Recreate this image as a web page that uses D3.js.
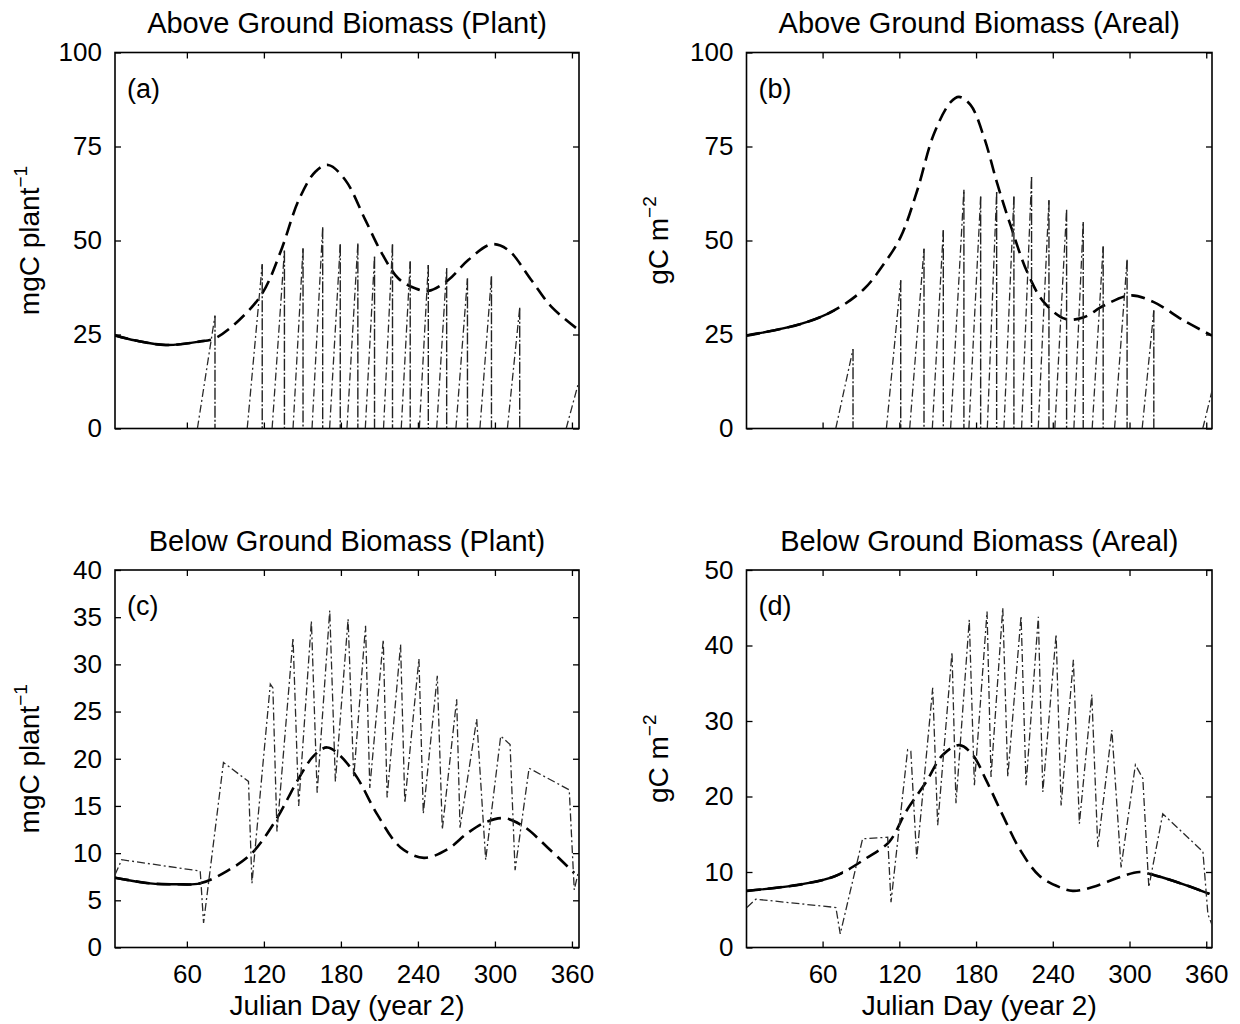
<!DOCTYPE html>
<html>
<head>
<meta charset="utf-8">
<script src="https://cdn.jsdelivr.net/npm/d3@7"></script>
<style>
  body { margin: 0; background: #fff; }
  text { font-family: "Liberation Sans", Arial, Helvetica, sans-serif; fill: #000; }
</style>
</head>
<body>
<svg id="chart" width="1240" height="1024"></svg>
<script>
// x ticks shared by all four panels
const dayTicks = [60, 120, 180, 240, 300, 360];

// (a) above ground, per plant
const aTicks = [0, 25, 50, 75, 100];
const aCurveDay = [3.5, 20, 43.6, 69.5, 82.5, 100.6, 118.7, 133, 147.2, 160.1, 170, 183.4, 199, 211.9, 224.8, 237.8, 248.1, 263.7, 279.2, 297.3, 310.2, 328.3, 343.9, 364.5];
const aCurveVal = [24.8, 23.4, 22.2, 23.1, 24.1, 28.8, 35.9, 47, 60.8, 68.3, 70.1, 66.1, 55.5, 46.6, 39.9, 37.3, 36.6, 39.5, 44.8, 49, 47.5, 39.5, 32.4, 26.4];
const aRiseDay = [68.2, 107, 126.4, 142.7, 157.5, 171.2, 184.7, 199, 213.2, 227, 241.1, 254.6, 269.6, 288.3, 309.7, 355.5];
const aPeakDay = [81.9, 118.7, 136, 150.5, 165.8, 179.5, 193.2, 206.2, 220.2, 234, 248.1, 262.4, 278.6, 297.3, 319.3, 365];
const aPeakVal = [30, 43.7, 47.3, 47.9, 53.5, 49, 49.2, 45.7, 49, 44.4, 43.5, 42.6, 39.9, 40.5, 32.1, 12];
const aSolid = [[0, 74]];

// (b) above ground, areal
const bTicks = [0, 25, 50, 75, 100];
const bCurveDay = [0.2, 43, 69, 92.4, 108, 121, 134, 147.1, 160.1, 166.6, 175.8, 186.2, 196.6, 207, 220, 233, 250, 264.3, 280, 300.8, 319, 342.4, 364.5];
const bCurveVal = [24.7, 27.8, 31.4, 37.1, 43.8, 50.9, 63.3, 78.4, 86.8, 88.2, 86, 77.5, 65.1, 54, 41.6, 33.6, 29.1, 29.6, 32.7, 35.4, 33.6, 28.7, 24.7];
const bRiseDay = [70.3, 109.9, 128.1, 145.8, 160.1, 174.4, 188.8, 201.8, 215.6, 228.6, 241.6, 256.5, 270.8, 288.3, 309.9, 357.3];
const bPeakDay = [83.8, 121.1, 139.3, 154.4, 170.5, 183.6, 196.1, 209.6, 223.4, 237, 250.8, 263.8, 279.4, 298.1, 319, 364.5];
const bPeakVal = [21.1, 39.4, 47.8, 52.7, 63.5, 61.7, 62.9, 61.7, 66.9, 60.7, 58.2, 54.9, 48.4, 44.9, 31.4, 10];
const bSolid = [[0, 70]];

// (c) below ground, per plant
const cTicks = [0, 5, 10, 15, 20, 25, 30, 35, 40];
const cCurveDay = [4, 31.3, 52.2, 70.4, 91.2, 110.7, 130.2, 145.8, 158.8, 169.3, 179.6, 192.7, 208.3, 226.5, 244.7, 262.9, 278.5, 291.5, 307.1, 322.7, 341, 361.8];
const cCurveVal = [7.4, 6.8, 6.7, 6.8, 8.1, 10, 13.7, 17.6, 20.3, 21.2, 20.3, 18, 14.1, 10.6, 9.5, 10.4, 12.1, 13.2, 13.7, 12.8, 10.6, 7.9];
const cThinDay = [4, 9.2, 70.4, 73, 88.5, 108, 110.7, 125, 127, 130.2, 142.7, 147.1, 157, 161.5, 171.3, 175.7, 185.6, 190, 199.2, 202.5, 213, 216, 226.5, 229.8, 240.8, 244.2, 255.1, 259, 270.2, 272.8, 285.8, 292.8, 304.5, 311.8, 315.7, 326.6, 357.9, 361.8, 365];
const cThinVal = [7.7, 9.3, 8.1, 2.6, 19.6, 17.6, 6.8, 27.9, 27.5, 12.3, 32.8, 15, 34.6, 16.4, 35.7, 17.6, 34.8, 18, 34.1, 16.9, 32.6, 15.9, 32.1, 15.3, 30.6, 14.2, 28.8, 12.5, 26.3, 12.7, 24.2, 9.3, 22.4, 21.5, 8.2, 19, 16.7, 6.1, 8];
const cSolid = [[0, 72]];

// (d) below ground, areal
const dTicks = [0, 10, 20, 30, 40, 50];
const dCurveDay = [0.8, 44.4, 70.4, 93.9, 112.1, 125.2, 140.9, 153.9, 166.9, 177.4, 187.8, 200.9, 213.9, 229.5, 245.2, 255.6, 271.3, 292.1, 307.8, 320.8, 341.7, 362.5];
const dCurveVal = [7.5, 8.4, 9.5, 11.8, 14, 18, 21.9, 25.5, 26.8, 25.5, 22.2, 17.5, 13.1, 9.5, 8, 7.5, 8, 9.3, 10, 9.5, 8.4, 7.1];
const dThinDay = [0.8, 7.8, 70.4, 73.8, 91.3, 110.9, 113.5, 126.5, 129, 133.6, 146.1, 150, 161.2, 164.3, 174.7, 178.7, 188.6, 191.7, 200.9, 204.8, 215.2, 219.1, 228.7, 232.2, 242.6, 246.5, 256.1, 260.8, 270.5, 275.2, 286.2, 293.4, 304.6, 310.4, 315.1, 326, 357.4, 361.3, 364.5];
const dThinVal = [5.3, 6.4, 5.3, 1.8, 14.4, 14.6, 6, 26.2, 26, 11.8, 34.4, 16.2, 39.1, 19.1, 43.4, 21.5, 44.5, 22.6, 45, 22.6, 43.9, 21.5, 43.8, 20.6, 41.5, 18.8, 38.1, 16.4, 33.5, 13.3, 28.8, 10.6, 24.2, 22.4, 8, 17.7, 12.7, 4.4, 3];
const dSolid = [[0, 76], [316, 366]];

// harvest spikes: slanted rise, then a near-vertical drop back to zero
function riseSegments(rise, peakDay, peakVal) {
    return rise.map((r, i) => [[r, 0], [peakDay[i], peakVal[i]]]);
}
function dropSegments(peakDay, peakVal, lastDay) {
    return peakDay.filter(d => d < lastDay - 1)
        .map((d, i) => [[d, peakVal[i]], [d, 0]]);
}
const zip = (xs, ys) => xs.map((v, i) => [v, ys[i]]);

const panels = [
    { key: "a", title: "Above Ground Biomass (Plant)", unit: "mgC plant", power: "\u22121",
      left: 115, right: 579, top: 52.5, bottom: 428.5, days: [4, 365.5], yMax: 100, yTicks: aTicks,
      curve: zip(aCurveDay, aCurveVal), thin: riseSegments(aRiseDay, aPeakDay, aPeakVal),
      drops: dropSegments(aPeakDay, aPeakVal, 365.5),
      solid: aSolid, labelX: 39, xLabels: false },
    { key: "b", title: "Above Ground Biomass (Areal)", unit: "gC m", power: "\u22122",
      left: 746.5, right: 1212, top: 52.5, bottom: 428.5, days: [0.5, 364.5], yMax: 100, yTicks: bTicks,
      curve: zip(bCurveDay, bCurveVal), thin: riseSegments(bRiseDay, bPeakDay, bPeakVal),
      drops: dropSegments(bPeakDay, bPeakVal, 364.5),
      solid: bSolid, labelX: 668, xLabels: false },
    { key: "c", title: "Below Ground Biomass (Plant)", unit: "mgC plant", power: "\u22121",
      left: 115, right: 579, top: 570, bottom: 947.5, days: [4, 365.5], yMax: 40, yTicks: cTicks,
      curve: zip(cCurveDay, cCurveVal), thin: [zip(cThinDay, cThinVal)], drops: [],
      solid: cSolid, labelX: 39, xLabels: true },
    { key: "d", title: "Below Ground Biomass (Areal)", unit: "gC m", power: "\u22122",
      left: 746.5, right: 1212, top: 570, bottom: 947.5, days: [0.5, 364.5], yMax: 50, yTicks: dTicks,
      curve: zip(dCurveDay, dCurveVal), thin: [zip(dThinDay, dThinVal)], drops: [],
      solid: dSolid, labelX: 668, xLabels: true }
];

const svg = d3.select("#chart");
svg.append("rect").attr("width", 1240).attr("height", 1024).attr("fill", "#fff");

function styleAxis(sel) {
    sel.attr("font-family", null).attr("font-size", 26);
    sel.select(".domain").remove();
    sel.selectAll(".tick line").attr("stroke", "#000").attr("stroke-width", 1.3);
    sel.selectAll(".tick text").attr("fill", "#000");
}

function drawPanel(p) {
    const x = d3.scaleLinear().domain(p.days).range([p.left, p.right]);
    const y = d3.scaleLinear().domain([0, p.yMax]).range([p.bottom, p.top]);
    const g = svg.append("g");

    // clip for the plot area
    g.append("clipPath").attr("id", "plot-" + p.key)
        .append("rect")
        .attr("x", p.left).attr("y", p.top)
        .attr("width", p.right - p.left).attr("height", p.bottom - p.top);

    // clip for the parts of the curve that print solid
    g.append("clipPath").attr("id", "solid-" + p.key)
        .selectAll("rect").data(p.solid).join("rect")
        .attr("x", d => x(d[0])).attr("y", p.top)
        .attr("width", d => x(d[1]) - x(d[0])).attr("height", p.bottom - p.top);

    // axes, ticks inward on all sides
    g.append("g").attr("transform", `translate(0,${p.bottom})`)
        .call(d3.axisBottom(x).tickValues(dayTicks).tickSizeInner(-6).tickSizeOuter(0).tickPadding(17)
            .tickFormat(p.xLabels ? d3.format("d") : () => ""))
        .call(styleAxis);
    g.append("g").attr("transform", `translate(0,${p.top})`)
        .call(d3.axisTop(x).tickValues(dayTicks).tickSizeInner(-6).tickSizeOuter(0).tickFormat(() => ""))
        .call(styleAxis);
    g.append("g").attr("transform", `translate(${p.left},0)`)
        .call(d3.axisLeft(y).tickValues(p.yTicks).tickSizeInner(-6).tickSizeOuter(0).tickPadding(13))
        .call(styleAxis);
    g.append("g").attr("transform", `translate(${p.right},0)`)
        .call(d3.axisRight(y).tickValues(p.yTicks).tickSizeInner(-6).tickSizeOuter(0).tickFormat(() => ""))
        .call(styleAxis);

    // box
    g.append("rect")
        .attr("x", p.left).attr("y", p.top)
        .attr("width", p.right - p.left).attr("height", p.bottom - p.top)
        .attr("fill", "none").attr("stroke", "#000").attr("stroke-width", 1.6);

    const smooth = d3.line().x(d => x(d[0])).y(d => y(d[1])).curve(d3.curveCatmullRom.alpha(0.5));
    const straight = d3.line().x(d => x(d[0])).y(d => y(d[1]));

    const plot = g.append("g").attr("clip-path", `url(#plot-${p.key})`);

    // thick dashed curve
    plot.append("path")
        .attr("d", smooth(p.curve))
        .attr("fill", "none").attr("stroke", "#000")
        .attr("stroke-width", 2.6).attr("stroke-dasharray", "14,7");
    plot.append("path")
        .attr("d", smooth(p.curve))
        .attr("clip-path", `url(#solid-${p.key})`)
        .attr("fill", "none").attr("stroke", "#000")
        .attr("stroke-width", 2.4);

    // thin dash-dot series
    plot.selectAll(".thin").data(p.thin).join("path")
        .attr("class", "thin")
        .attr("d", straight)
        .attr("fill", "none").attr("stroke", "#2a2a2a")
        .attr("stroke-width", 1.3).attr("stroke-dasharray", "8,3,2,3");
    plot.selectAll(".drop").data(p.drops).join("path")
        .attr("class", "drop")
        .attr("d", straight)
        .attr("fill", "none").attr("stroke", "#222")
        .attr("stroke-width", 1.4).attr("stroke-dasharray", "12,2,2,2");

    // panel letter
    g.append("text")
        .attr("x", p.left + 12).attr("y", p.top + 45)
        .attr("font-size", 27)
        .text(`(${p.key})`);

    // title
    g.append("text")
        .attr("x", (p.left + p.right) / 2).attr("y", p.top - 19.5)
        .attr("text-anchor", "middle").attr("font-size", 29)
        .text(p.title);

    // y label with superscript
    const yl = g.append("text")
        .attr("transform", `translate(${p.labelX},${(p.top + p.bottom) / 2}) rotate(-90)`)
        .attr("text-anchor", "middle").attr("font-size", 28);
    yl.append("tspan").text(p.unit);
    yl.append("tspan").attr("dy", -12).attr("font-size", 19).text(p.power);

    if (p.xLabels) {
        g.append("text")
            .attr("x", (p.left + p.right) / 2).attr("y", p.bottom + 67)
            .attr("text-anchor", "middle").attr("font-size", 28)
            .text("Julian Day (year 2)");
    }
}

panels.forEach(drawPanel);
</script>
</body>
</html>
